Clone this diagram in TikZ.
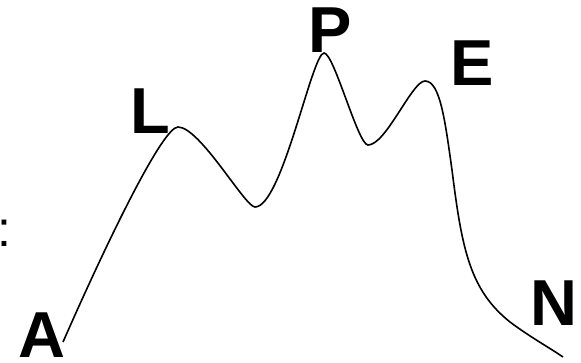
\documentclass[tikz,border=0pt]{standalone}
\usepackage{fontspec}
\setmainfont{Liberation Sans}
\usepackage{tikz}
\usetikzlibrary{positioning}

\tikzset{peaklabel/.style={font=\bfseries\fontsize{65}{65}\selectfont,inner sep=0pt,anchor=base}}

\begin{document}
\begin{tikzpicture}[x=1pt,y=-1pt]
\useasboundingbox (0,0) rectangle (581,362);

% mountain profile
\draw[line width=1.6pt]
  (63,342) .. controls (110,235) and (163,127) .. (178,127)
  .. controls (200,127) and (245,207) .. (255,207)
  .. controls (282,207) and (312,53) .. (324,53)
  .. controls (334,53) and (358,145) .. (368,145)
  .. controls (386,145) and (412,81) .. (425,81)
  .. controls (440,81) and (445,120) .. (452,170)
  .. controls (462,250) and (470,290) .. (510,322)
  .. controls (530,337) and (550,348) .. (563,357);

\node[peaklabel] (a) at (41.5,357) {A};
\node[peaklabel] (l) at (150,133) {L};
\node[peaklabel] (p) at (330,52) {P};
\node[peaklabel] (e) at (472,85) {E};
\node[peaklabel] (n) at (554,325) {N};
\node[font=\fontsize{50}{50}\selectfont,inner sep=0pt,anchor=base west] (colon) at (-2.5,246) {:};
\end{tikzpicture}
\end{document}
